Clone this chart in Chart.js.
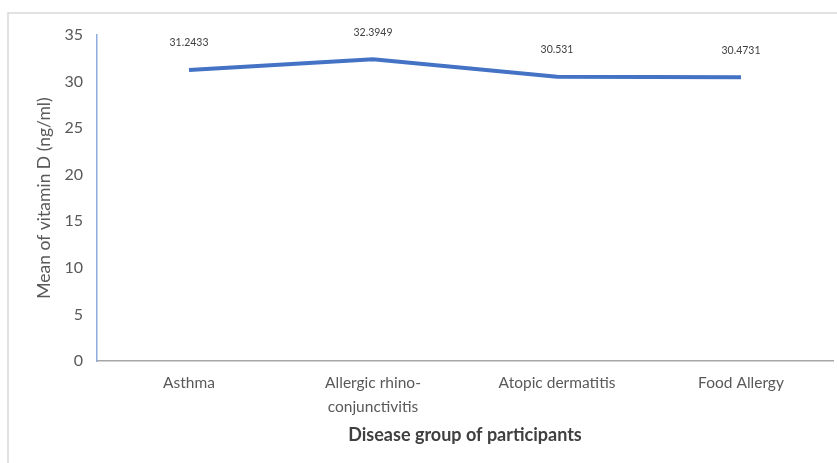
<!DOCTYPE html>
<html>
<head>
<meta charset="utf-8">
<script src="https://cdn.jsdelivr.net/npm/chart.js@4"></script>
<style>
  html, body { margin: 0; padding: 0; background: #ffffff; }
  #wrap { width: 837px; height: 463px; position: relative; }
</style>
</head>
<body>
<div id="wrap"><canvas id="c" width="837" height="463"></canvas></div>
<script>
// Disease groups and mean vitamin D level per group
const categories = ["Asthma", ["Allergic rhino-", "conjunctivitis"], "Atopic dermatitis", "Food Allergy"];
const meanVitaminD = [31.2433, 32.3949, 30.531, 30.4731];
const valueLabels = ["31.2433", "32.3949", "30.531", "30.4731"];
const yTicks = [0, 5, 10, 15, 20, 25, 30, 35];

const FONT = "Lato, 'Open Sans', sans-serif";

// Light frame around the whole chart
const framePlugin = {
  id: 'frame',
  beforeDraw(chart) {
    const ctx = chart.ctx;
    ctx.save();
    ctx.strokeStyle = '#d9d9d9';
    ctx.lineWidth = 1.5;
    ctx.strokeRect(8, 13, chart.width + 10, chart.height + 10);
    ctx.restore();
  }
};

// Value labels drawn above each point
const valueLabelPlugin = {
  id: 'valueLabels',
  afterDatasetsDraw(chart) {
    const ctx = chart.ctx;
    const meta = chart.getDatasetMeta(0);
    ctx.save();
    ctx.font = '10.5px ' + FONT;
    ctx.fillStyle = '#404040';
    ctx.textAlign = 'center';
    ctx.textBaseline = 'middle';
    meta.data.forEach((pt, i) => {
      ctx.fillText(valueLabels[i], pt.x, pt.y - 27);
    });
    ctx.restore();
  }
};

new Chart(document.getElementById('c'), {
  type: 'line',
  data: {
    labels: categories,
    datasets: [{
      data: meanVitaminD,
      borderColor: '#4472c4',
      borderWidth: 4,
      pointRadius: 0,
      tension: 0,
      fill: false
    }]
  },
  options: {
    responsive: false,
    animation: false,
    layout: { padding: { top: 35, right: 4, left: 0, bottom: 0 } },
    plugins: {
      legend: { display: false },
      tooltip: { enabled: false }
    },
    scales: {
      x: {
        offset: true,
        grid: { display: false },
        border: { display: true, color: '#a6a6a6', width: 1.5 },
        ticks: {
          color: '#595959',
          font: { family: FONT, size: 15.5, lineHeight: 1.55 },
          padding: 2,
          maxRotation: 0,
          autoSkip: false
        },
        title: {
          display: true,
          text: 'Disease group of participants',
          color: '#404040',
          font: { family: FONT, size: 18, weight: 'bold' },
          padding: { top: 0, bottom: 17 }
        },
        afterFit(scale) { scale.height = 463 - 361; }
      },
      y: {
        min: 0,
        max: 35,
        afterBuildTicks(scale) { scale.ticks = yTicks.map(v => ({ value: v })); },
        grid: { display: false },
        border: { display: true, color: '#8faadc', width: 1.5 },
        ticks: {
          color: '#595959',
          font: { family: FONT, size: 16 },
          padding: 6
        },
        title: {
          display: true,
          text: 'Mean of vitamin D (ng/ml)',
          color: '#595959',
          font: { family: FONT, size: 17.5 },
          padding: { top: 34, bottom: 0 }
        },
        afterFit(scale) { scale.width = 97; }
      }
    }
  },
  plugins: [framePlugin, valueLabelPlugin]
});
</script>
</body>
</html>
